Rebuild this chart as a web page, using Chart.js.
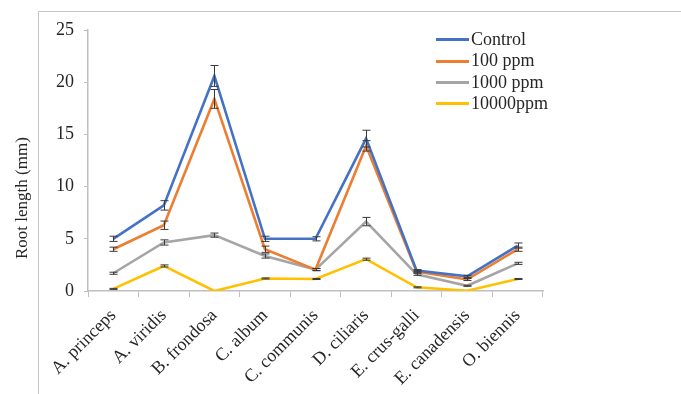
<!DOCTYPE html>
<html>
<head>
<meta charset="utf-8">
<script src="https://cdn.jsdelivr.net/npm/chart.js@4/dist/chart.umd.min.js"></script>
<style>
  html, body { margin: 0; padding: 0; background: #fff; }
  #wrap { position: relative; width: 681px; height: 394px; overflow: hidden; }
  #frame { position: absolute; left: 38px; top: 11px; width: 700px; height: 400px;
           border-left: 1.5px solid #c4c4c4; border-top: 1.5px solid #c4c4c4; }
  canvas { position: absolute; left: 0; top: 0; }
  #legend { position: absolute; left: 436px; top: 29px; font-family: "Liberation Serif", serif;
            font-size: 18px; color: #262626; }
  #legend div { height: 21.3px; line-height: 21.3px; white-space: nowrap; }
  #legend span { display: inline-block; width: 33px; height: 3px; vertical-align: middle;
                 margin-right: 2px; position: relative; top: -1px; }
</style>
</head>
<body>
<div id="wrap">
  <div id="frame"></div>
  <canvas id="c" width="681" height="394"></canvas>
  <div id="legend"></div>
</div>
<script>
const species = ["A. princeps", "A. viridis", "B. frondosa", "C. album", "C. communis",
                 "D. ciliaris", "E. crus-galli", "E. canadensis", "O. biennis"];
const seriesNames = ["Control", "100 ppm", "1000 ppm", "10000ppm"];
const seriesColors = ["#4472C4", "#ED7D31", "#A5A5A5", "#FFC000"];

const control   = [5.0, 8.2, 20.6, 5.0, 5.0, 14.6, 1.95, 1.4, 4.35];
const ppm100    = [4.0, 6.3, 18.4, 4.0, 2.05, 13.9, 1.85, 1.1, 4.0];
const ppm1000   = [1.7, 4.65, 5.35, 3.35, 2.05, 6.65, 1.6, 0.5, 2.65];
const ppm10000  = [0.2, 2.4, 0.0, 1.2, 1.15, 3.05, 0.35, 0.03, 1.15];

const errControl  = [0.25, 0.45, 1.0, 0.25, 0.2, 0.8, 0.1, 0.1, 0.25];
const err100      = [0.2, 0.4, 0.9, 0.3, 0.1, 0.5, 0.1, 0.1, 0.2];
const err1000     = [0.1, 0.25, 0.2, 0.2, 0.1, 0.4, 0.1, 0.05, 0.1];
const err10000    = [0.05, 0.1, 0.0, 0.05, 0.05, 0.1, 0.05, 0.0, 0.05];

const yTicks = [0, 5, 10, 15, 20, 25];

const values = [control, ppm100, ppm1000, ppm10000];
const errors = [errControl, err100, err1000, err10000];

const fontFamily = '"Liberation Serif", serif';

// Error bars with caps, drawn on top of the lines
const errorBars = {
  id: 'errorBars',
  afterDatasetsDraw(chart) {
    const ctx = chart.ctx;
    const y = chart.scales.y;
    ctx.save();
    ctx.strokeStyle = '#3a3a3a';
    ctx.lineWidth = 1;
    chart.data.datasets.forEach((ds, i) => {
      const meta = chart.getDatasetMeta(i);
      ds.errors.forEach((e, j) => {
        if (!e) return;
        const px = Math.round(meta.data[j].x) + 0.5;
        const top = y.getPixelForValue(ds.data[j] + e);
        const bot = y.getPixelForValue(ds.data[j] - e);
        ctx.beginPath();
        ctx.moveTo(px, top); ctx.lineTo(px, bot);
        ctx.moveTo(px - 4, top); ctx.lineTo(px + 4, top);
        ctx.moveTo(px - 4, bot); ctx.lineTo(px + 4, bot);
        ctx.stroke();
      });
    });
    ctx.restore();
  }
};

// Vertical axis title
const yTitle = {
  id: 'yTitle',
  afterDraw(chart) {
    const ctx = chart.ctx;
    ctx.save();
    ctx.translate(27, 259);
    ctx.rotate(-Math.PI / 2);
    ctx.font = '17px ' + fontFamily;
    ctx.fillStyle = '#262626';
    ctx.textAlign = 'left';
    ctx.textBaseline = 'alphabetic';
    ctx.fillText('Root length (mm)', 0, 0);
    ctx.restore();
  }
};

new Chart(document.getElementById('c'), {
  type: 'line',
  data: {
    labels: species,
    datasets: values.map((v, i) => ({
      label: seriesNames[i],
      data: v,
      errors: errors[i],
      borderColor: seriesColors[i],
      backgroundColor: seriesColors[i],
      borderWidth: 2.6,
      pointRadius: 0,
      tension: 0,
      fill: false
    }))
  },
  options: {
    responsive: false,
    animation: false,
    layout: { padding: { top: 30, right: 138, left: 0, bottom: 0 } },
    plugins: { legend: { display: false }, tooltip: { enabled: false } },
    scales: {
      x: {
        offset: true,
        grid: { display: true, offset: true, drawOnChartArea: false, tickLength: 6, color: '#bfbfbf' },
        border: { color: '#bfbfbf', width: 1.5 },
        ticks: {
          minRotation: 45, maxRotation: 45, padding: 8,
          color: '#262626', font: { family: fontFamily, size: 18 }
        },
        afterFit(scale) { scale.height = 103; }
      },
      y: {
        min: 0, max: 25,
        afterBuildTicks(scale) { scale.ticks = yTicks.map(v => ({ value: v })); },
        grid: { display: true, drawOnChartArea: false, tickLength: 4, color: '#bfbfbf' },
        border: { color: '#bfbfbf', width: 1.5 },
        ticks: { padding: 10, color: '#262626', font: { family: fontFamily, size: 18 } },
        afterFit(scale) { scale.width = 88; }
      }
    }
  },
  plugins: [errorBars, yTitle]
});

// Legend
const legend = document.getElementById('legend');
seriesNames.forEach((name, i) => {
  const row = document.createElement('div');
  const sw = document.createElement('span');
  sw.style.background = seriesColors[i];
  row.appendChild(sw);
  row.appendChild(document.createTextNode(name));
  legend.appendChild(row);
});
</script>
</body>
</html>
